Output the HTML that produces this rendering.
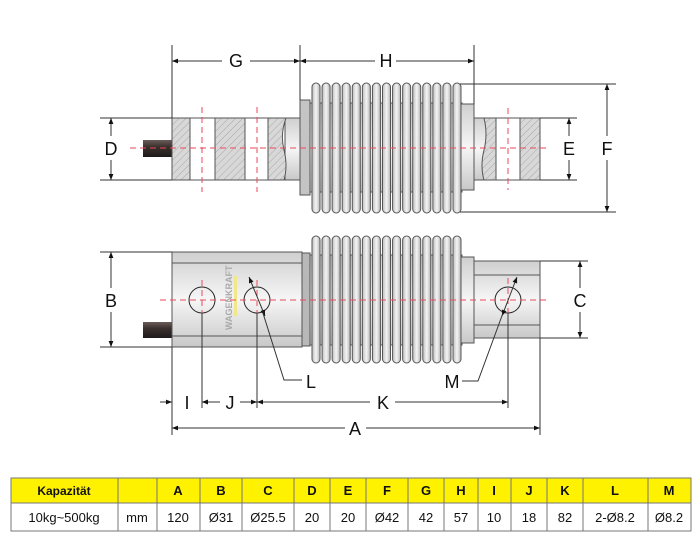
<!DOCTYPE html>
<html><head><meta charset="utf-8"><style>
body{margin:0;background:#fff;width:700px;height:541px;overflow:hidden}
svg{position:absolute;left:0;top:0}
text{font-family:"Liberation Sans",sans-serif;fill:#111}
</style></head><body>
<svg width="700" height="541" viewBox="0 0 700 541">
<defs>
<pattern id="h" width="5" height="5" patternUnits="userSpaceOnUse" patternTransform="rotate(45)">
<rect width="5" height="5" fill="#d8d8d8"/><line x1="0" y1="0" x2="0" y2="5" stroke="#a8a8a8" stroke-width="1"/></pattern>
<linearGradient id="fin" x1="0" x2="1"><stop offset="0" stop-color="#bdbdbd"/><stop offset="0.5" stop-color="#f4f4f4"/><stop offset="1" stop-color="#b5b5b5"/></linearGradient>
<linearGradient id="vg" x1="0" y1="0" x2="0" y2="1"><stop offset="0" stop-color="#cfcfcf"/><stop offset="0.5" stop-color="#f6f6f6"/><stop offset="1" stop-color="#c8c8c8"/></linearGradient>
<linearGradient id="cab" x1="0" y1="0" x2="0" y2="1"><stop offset="0" stop-color="#6a5c58"/><stop offset="0.4" stop-color="#3a302e"/><stop offset="1" stop-color="#1e1a1a"/></linearGradient>
<marker id="a" viewBox="0 0 10 10" refX="10" refY="5" markerWidth="8" markerHeight="6" orient="auto-start-reverse"><path d="M0,1 L10,5 L0,9z" fill="#111"/></marker>
</defs>
<g stroke="#555" stroke-width="1">
<rect x="143" y="140" width="30" height="17" fill="url(#cab)" stroke="none"/>
<rect x="285" y="118" width="16" height="62" fill="url(#vg)"/>
<rect x="172" y="118" width="18" height="62" fill="url(#h)"/>
<rect x="190" y="118" width="25" height="62" fill="#fff"/>
<rect x="215" y="118" width="30" height="62" fill="url(#h)"/>
<rect x="245" y="118" width="23" height="62" fill="#fff"/>
<path d="M268,118 H286 Q280,134 284,150 Q288,166 284,180 H268z" fill="url(#h)"/>
<rect x="310" y="103" width="152" height="89" fill="url(#vg)"/>
<rect x="300" y="100" width="10" height="95" fill="#c4c4c4"/>
<rect x="461" y="104" width="13" height="86" fill="url(#vg)"/>
<rect x="474" y="118" width="12" height="62" fill="url(#vg)"/>
<path d="M484,118 H496 V180 H484 Q480,166 484,150 Q488,134 484,118z" fill="url(#h)"/>
<rect x="496" y="118" width="24" height="62" fill="#fff"/>
<rect x="520" y="118" width="20" height="62" fill="url(#h)"/>
<g fill="url(#fin)">
<rect x="312" y="83" width="8" height="130" rx="4"/><rect x="322.07" y="83" width="8" height="130" rx="4"/><rect x="332.14" y="83" width="8" height="130" rx="4"/><rect x="342.21" y="83" width="8" height="130" rx="4"/><rect x="352.28" y="83" width="8" height="130" rx="4"/><rect x="362.35" y="83" width="8" height="130" rx="4"/><rect x="372.42" y="83" width="8" height="130" rx="4"/><rect x="382.5" y="83" width="8" height="130" rx="4"/><rect x="392.57" y="83" width="8" height="130" rx="4"/><rect x="402.64" y="83" width="8" height="130" rx="4"/><rect x="412.71" y="83" width="8" height="130" rx="4"/><rect x="422.78" y="83" width="8" height="130" rx="4"/><rect x="432.85" y="83" width="8" height="130" rx="4"/><rect x="442.92" y="83" width="8" height="130" rx="4"/><rect x="453" y="83" width="8" height="130" rx="4"/>
</g>
<rect x="143" y="322" width="30" height="16" fill="url(#cab)" stroke="none"/>
<rect x="172" y="252" width="130" height="95" fill="url(#vg)"/>
<line x1="172" y1="263" x2="302" y2="263"/><line x1="172" y1="336" x2="302" y2="336"/>
<rect x="302" y="253" width="8" height="93" fill="#b8b8b8"/>
<rect x="310" y="255" width="152" height="90" fill="url(#vg)"/>
<rect x="461" y="257" width="13" height="86" fill="url(#vg)"/>
<rect x="474" y="261" width="66" height="77" fill="url(#vg)"/>
<line x1="474" y1="275" x2="540" y2="275"/><line x1="474" y1="325" x2="540" y2="325"/>
<g fill="url(#fin)">
<rect x="312" y="236" width="8" height="127" rx="4"/><rect x="322.07" y="236" width="8" height="127" rx="4"/><rect x="332.14" y="236" width="8" height="127" rx="4"/><rect x="342.21" y="236" width="8" height="127" rx="4"/><rect x="352.28" y="236" width="8" height="127" rx="4"/><rect x="362.35" y="236" width="8" height="127" rx="4"/><rect x="372.42" y="236" width="8" height="127" rx="4"/><rect x="382.5" y="236" width="8" height="127" rx="4"/><rect x="392.57" y="236" width="8" height="127" rx="4"/><rect x="402.64" y="236" width="8" height="127" rx="4"/><rect x="412.71" y="236" width="8" height="127" rx="4"/><rect x="422.78" y="236" width="8" height="127" rx="4"/><rect x="432.85" y="236" width="8" height="127" rx="4"/><rect x="442.92" y="236" width="8" height="127" rx="4"/><rect x="453" y="236" width="8" height="127" rx="4"/>
</g>
<g fill="none" stroke="#222"><circle cx="202" cy="300" r="13"/><circle cx="257" cy="300" r="13"/><circle cx="508" cy="300" r="13"/></g>
</g>
<text x="0" y="0" transform="translate(232,330) rotate(-90)" font-size="9" style="fill:#aaa" font-weight="bold">WAGENKRAFT</text>
<rect x="234" y="276" width="3" height="40" fill="#f0e88a"/>
<g stroke="#e84a5a" stroke-width="1" stroke-dasharray="6,4" fill="none">
<line x1="130" y1="148" x2="548" y2="148"/>
<line x1="202" y1="107" x2="202" y2="192"/><line x1="257" y1="107" x2="257" y2="192"/><line x1="508" y1="108" x2="508" y2="190"/>
<line x1="160" y1="300" x2="548" y2="300"/>
<line x1="202" y1="280" x2="202" y2="320"/><line x1="257" y1="280" x2="257" y2="320"/><line x1="508" y1="278" x2="508" y2="322"/>
</g>
<g stroke="#333" stroke-width="1" fill="none">
<line x1="172" y1="45" x2="172" y2="118"/><line x1="300" y1="45" x2="300" y2="100"/><line x1="474" y1="45" x2="474" y2="104"/>
<line x1="172" y1="61" x2="222" y2="61" marker-start="url(#a)"/><line x1="250" y1="61" x2="300" y2="61" marker-end="url(#a)"/>
<line x1="300" y1="61" x2="375" y2="61" marker-start="url(#a)"/><line x1="396" y1="61" x2="474" y2="61" marker-end="url(#a)"/>
<line x1="100" y1="118" x2="172" y2="118"/><line x1="100" y1="180" x2="172" y2="180"/>
<line x1="111" y1="118" x2="111" y2="136" marker-start="url(#a)"/><line x1="111" y1="160" x2="111" y2="180" marker-end="url(#a)"/>
<line x1="540" y1="118" x2="577" y2="118"/><line x1="540" y1="180" x2="577" y2="180"/>
<line x1="569" y1="118" x2="569" y2="136" marker-start="url(#a)"/><line x1="569" y1="160" x2="569" y2="180" marker-end="url(#a)"/>
<line x1="460" y1="84" x2="616" y2="84"/><line x1="460" y1="212" x2="616" y2="212"/>
<line x1="607" y1="84" x2="607" y2="136" marker-start="url(#a)"/><line x1="607" y1="160" x2="607" y2="212" marker-end="url(#a)"/>
<line x1="100" y1="252" x2="172" y2="252"/><line x1="100" y1="347" x2="172" y2="347"/>
<line x1="111" y1="252" x2="111" y2="288" marker-start="url(#a)"/><line x1="111" y1="312" x2="111" y2="347" marker-end="url(#a)"/>
<line x1="540" y1="261" x2="588" y2="261"/><line x1="540" y1="338" x2="588" y2="338"/>
<line x1="580" y1="261" x2="580" y2="288" marker-start="url(#a)"/><line x1="580" y1="312" x2="580" y2="338" marker-end="url(#a)"/>
<line x1="172" y1="347" x2="172" y2="435"/><line x1="540" y1="338" x2="540" y2="435"/>
<line x1="202" y1="313" x2="202" y2="408"/><line x1="257" y1="313" x2="257" y2="408"/><line x1="508" y1="313" x2="508" y2="408"/>
<line x1="160" y1="402" x2="172" y2="402" marker-end="url(#a)"/><line x1="215" y1="402" x2="202" y2="402" marker-end="url(#a)"/>
<line x1="202" y1="402" x2="220" y2="402" marker-start="url(#a)"/><line x1="240" y1="402" x2="257" y2="402" marker-end="url(#a)"/>
<line x1="257" y1="402" x2="370" y2="402" marker-start="url(#a)"/><line x1="395" y1="402" x2="508" y2="402" marker-end="url(#a)"/>
<line x1="172" y1="428" x2="345" y2="428" marker-start="url(#a)"/><line x1="366" y1="428" x2="540" y2="428" marker-end="url(#a)"/>
<line x1="249" y1="277" x2="265" y2="316" marker-start="url(#a)" marker-end="url(#a)"/>
<polyline points="262,310 284,380 302,380"/>
<line x1="517" y1="277" x2="502" y2="316" marker-start="url(#a)" marker-end="url(#a)"/>
<polyline points="503,313 478,381 462,381"/>
</g>
<g font-size="18" text-anchor="middle">
<text x="236" y="67">G</text><text x="386" y="67">H</text>
<text x="111" y="155">D</text><text x="569" y="155">E</text><text x="607" y="155">F</text>
<text x="111" y="307">B</text><text x="580" y="307">C</text>
<text x="311" y="388">L</text><text x="452" y="388">M</text>
<text x="187" y="409">I</text><text x="230" y="409">J</text><text x="383" y="409">K</text><text x="355" y="435">A</text>
</g>
<g font-size="13" text-anchor="middle">
<rect x="11" y="478" width="680" height="25" fill="#fff200"/>
<rect x="11" y="503" width="680" height="28" fill="#fff"/>
<g stroke="#777" stroke-width="1">
<rect x="11" y="478" width="680" height="53" fill="none"/>
<line x1="11" y1="503" x2="691" y2="503"/>
<line x1="118" y1="478" x2="118" y2="531"/><line x1="157" y1="478" x2="157" y2="531"/><line x1="200" y1="478" x2="200" y2="531"/><line x1="242" y1="478" x2="242" y2="531"/><line x1="294" y1="478" x2="294" y2="531"/><line x1="330" y1="478" x2="330" y2="531"/><line x1="366" y1="478" x2="366" y2="531"/><line x1="408" y1="478" x2="408" y2="531"/><line x1="444" y1="478" x2="444" y2="531"/><line x1="478" y1="478" x2="478" y2="531"/><line x1="511" y1="478" x2="511" y2="531"/><line x1="547" y1="478" x2="547" y2="531"/><line x1="583" y1="478" x2="583" y2="531"/><line x1="648" y1="478" x2="648" y2="531"/>
</g>
<g font-weight="bold">
<text x="64" y="495" font-size="12">Kapazität</text>
<text x="178" y="495">A</text><text x="221" y="495">B</text><text x="268" y="495">C</text><text x="312" y="495">D</text><text x="348" y="495">E</text><text x="387" y="495">F</text><text x="426" y="495">G</text><text x="461" y="495">H</text><text x="494" y="495">I</text><text x="529" y="495">J</text><text x="565" y="495">K</text><text x="615" y="495">L</text><text x="669" y="495">M</text>
</g>
<text x="64" y="522">10kg~500kg</text><text x="137" y="522">mm</text>
<text x="178" y="522">120</text><text x="221" y="522">Ø31</text><text x="268" y="522">Ø25.5</text><text x="312" y="522">20</text><text x="348" y="522">20</text><text x="387" y="522">Ø42</text><text x="426" y="522">42</text><text x="461" y="522">57</text><text x="494" y="522">10</text><text x="529" y="522">18</text><text x="565" y="522">82</text><text x="615" y="522">2-Ø8.2</text><text x="669" y="522">Ø8.2</text>
</g>
</svg>
</body></html>
